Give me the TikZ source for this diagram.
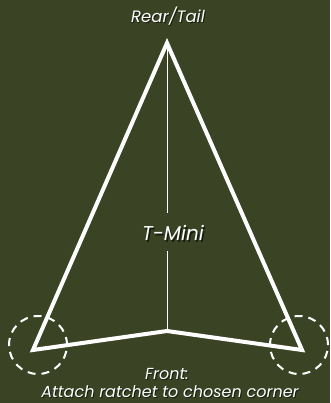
\documentclass[tikz,border=0pt]{standalone}
\usepackage{fontspec}
\setmainfont{Poppins}
\definecolor{bgolive}{RGB}{58,68,36}
\begin{document}
\begin{tikzpicture}[x=1pt,y=-1pt,
  lbl/.style={text=white,font=\itshape,inner sep=0pt},
  shadowlbl/.style={text=black,opacity=0.6,font=\itshape,inner sep=0pt},
  corner/.style={draw=white,line width=2pt,dash pattern=on 8pt off 6pt},
  outline/.style={draw=white,line width=4pt,line join=miter}]
\fill[bgolive] (0,0) rectangle (330,403);
\useasboundingbox (0,0) rectangle (330,403);
\coordinate (apex) at (167,43);
\coordinate (bl) at (33,350);
\coordinate (br) at (302,350);
\coordinate (notch) at (167,331);
\draw[white,line width=0.9pt] (apex) -- (notch);
\draw[outline] (apex) -- (br) -- (notch) -- (bl) -- cycle;
\node[corner,circle,minimum size=58pt] (cl) at (38,345) {};
\node[corner,circle,minimum size=58pt] (cr) at (299,345) {};
% title labels
\node[shadowlbl,font=\itshape\fontsize{16.5}{18}\selectfont] at (169,17) {Rear/Tail};
\node[lbl,font=\itshape\fontsize{16.5}{18}\selectfont] (rear) at (168,16) {Rear/Tail};
\node[fill=bgolive,minimum width=40pt,minimum height=38pt] (mask) at (167,232) {};
\node[shadowlbl,font=\itshape\fontsize{20}{22}\selectfont] at (174.5,234.5) {T-Mini};
\node[lbl,font=\itshape\fontsize{20}{22}\selectfont] (tmini) at (173,233) {T-Mini};
\node[shadowlbl,font=\itshape\fontsize{16}{18}\selectfont] at (168,375) {Front:};
\node[lbl,font=\itshape\fontsize{16}{18}\selectfont] (front) at (167,374) {Front:};
\node[shadowlbl,font=\itshape\fontsize{16}{18}\selectfont] at (171,393) {Attach ratchet to chosen corner};
\node[lbl,font=\itshape\fontsize{16}{18}\selectfont] (attach) at (170,392) {Attach ratchet to chosen corner};
\end{tikzpicture}
\end{document}
